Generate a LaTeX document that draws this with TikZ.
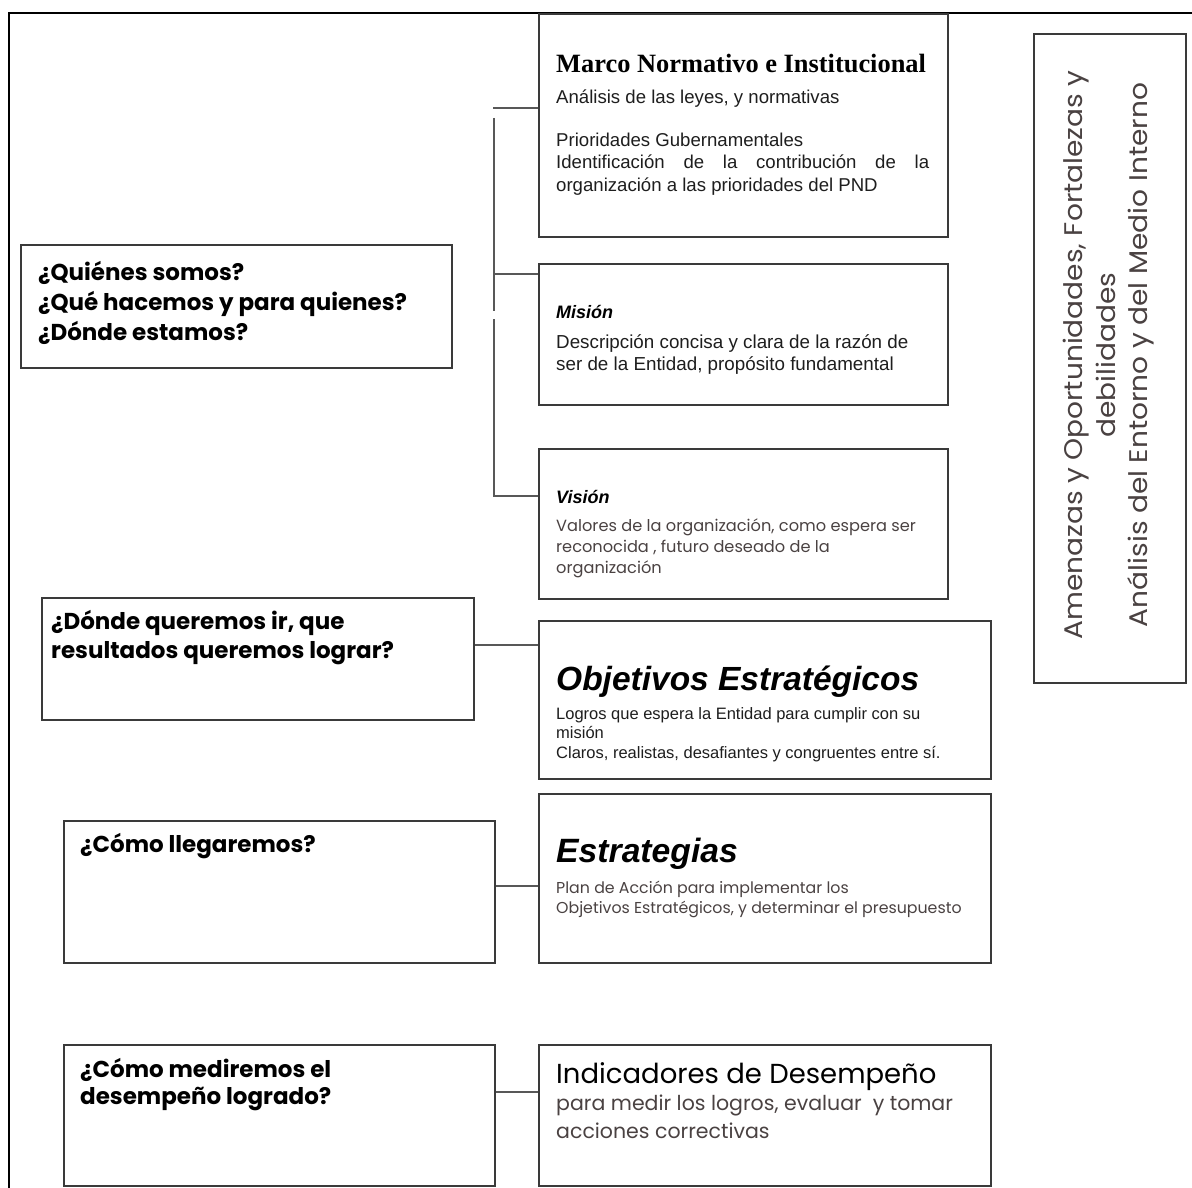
\documentclass[tikz,border=0pt]{standalone}
\usepackage{fontspec}
\setmainfont{Liberation Sans}
\newfontfamily\timesf{Liberation Serif}
\newfontfamily\gothic{Poppins}
\newfontfamily\gothicw[FakeStretch=1.1]{Poppins}
\definecolor{lin}{HTML}{3A3A3A}
\definecolor{txt}{HTML}{1E1E1E}
\definecolor{gtxt}{HTML}{4A4242}
\tikzset{
  box/.style={draw=lin, line width=1.6pt, anchor=north west, inner sep=0pt, fill=none},
  conn/.style={draw=lin!85!white, line width=1.8pt},
  frame/.style={draw=black, line width=2pt},
  tx/.style={anchor=base west, inner sep=0pt, align=left, text=txt},
}
\begin{document}
\begin{tikzpicture}[x=1pt,y=-1pt]
\useasboundingbox (0,0) rectangle (1192,1188);
\fill[white] (0,0) rectangle (1192,1188);
% outer frame
\draw[frame] (9,1188) -- (9,13) -- (1192,13);

% right column boxes
\node[box, minimum width=409pt, minimum height=223pt] (marco) at (538,13) {};
\node[box, minimum width=409pt, minimum height=141pt] (mision) at (538,263) {};
\node[box, minimum width=409pt, minimum height=150pt] (vision) at (538,448) {};
\node[box, minimum width=452pt, minimum height=158pt] (obj) at (538,620) {};
\node[box, minimum width=452pt, minimum height=169pt] (estr) at (538,793) {};
\node[box, minimum width=452pt, minimum height=141pt] (ind) at (538,1044) {};
% left column boxes
\node[box, minimum width=431pt, minimum height=123pt] (quien) at (20,244) {};
\node[box, minimum width=432pt, minimum height=122pt] (donde) at (41,597) {};
\node[box, minimum width=431pt, minimum height=142pt] (como) at (63,820) {};
\node[box, minimum width=431pt, minimum height=141pt] (medir) at (63,1044) {};
% side box
\node[box, minimum width=152pt, minimum height=649pt] (foda) at (1033,33) {};

% texts: Marco (multi-line nodes are placed by the baseline of their last line)
\node[tx, font=\timesf\bfseries\fontsize{26.4}{30}\selectfont, text=black] (tmarco) at (556,73) {Marco Normativo e Institucional};
\node[tx, font=\fontsize{18.6}{22}\selectfont] (tmarcob) at (556,191) {An\'alisis de las leyes, y normativas\\[22pt]
Prioridades Gubernamentales\\
\hbox to 373pt{Identificaci\'on\hfill de\hfill la\hfill contribuci\'on\hfill de\hfill la}\\
organizaci\'on a las prioridades del PND};
% Mision
\node[tx, font=\bfseries\itshape\fontsize{18}{22}\selectfont, text=black] (tmis) at (556,318) {Misi\'on};
\node[tx, font=\fontsize{18.8}{22}\selectfont] (tmisb) at (556,370) {Descripci\'on concisa y clara de la raz\'on de\\ser de la Entidad, prop\'osito fundamental};
% Vision
\node[tx, font=\bfseries\itshape\fontsize{18}{22}\selectfont, text=black] (tvis) at (556,503) {Visi\'on};
\node[tx, font=\gothic\fontsize{16.2}{21}\selectfont, text=gtxt] (tvisb) at (556,573) {Valores de la organizaci\'on, como espera ser\\reconocida , futuro deseado de la\\organizaci\'on};
% Objetivos
\node[tx, font=\bfseries\itshape\fontsize{33.5}{36}\selectfont, text=black] (tobj) at (556,690) {Objetivos Estrat\'egicos};
\node[tx, font=\fontsize{16.5}{19.5}\selectfont] (tobjb) at (556,758) {Logros que espera la Entidad para cumplir con su\\misi\'on\\Claros, realistas, desafiantes y congruentes entre s\'i.};
% Estrategias
\node[tx, font=\bfseries\itshape\fontsize{33.7}{36}\selectfont, text=black] (testr) at (556,862) {Estrategias};
\node[tx, font=\gothic\fontsize{15.8}{20}\selectfont, text=gtxt] (testrb) at (556,913) {Plan de Acci\'on para implementar los\\Objetivos Estrat\'egicos, y determinar el presupuesto};
% Indicadores
\node[tx, font=\gothic\fontsize{27.5}{30}\selectfont, text=black] (tind) at (556,1083) {Indicadores de Desempe\~no};
\node[tx, font=\gothic\fontsize{20.5}{28}\selectfont, text=gtxt] (tindb) at (556,1138) {para medir los logros, evaluar\ \ y tomar\\acciones correctivas};
% questions
\node[tx, font=\gothic\bfseries\fontsize{23}{30}\selectfont, text=black] (tq1) at (38,340) {¿Qui\'enes somos?\\¿Qu\'e hacemos y para quienes?\\¿D\'onde estamos?};
\node[tx, font=\gothic\bfseries\fontsize{23}{29}\selectfont, text=black] (tq2) at (51,658) {¿D\'onde queremos ir, que\\resultados queremos lograr?};
\node[tx, font=\gothic\bfseries\fontsize{23}{29}\selectfont, text=black] (tq3) at (80,852) {¿C\'omo llegaremos?};
\node[tx, font=\gothic\bfseries\fontsize{23}{27}\selectfont, text=black] (tq4) at (80,1104) {¿C\'omo mediremos el\\desempe\~no logrado?};
% rotated side text
\node[inner sep=0pt, align=center, rotate=90, font=\gothicw\fontsize{25.5}{32.5}\selectfont, text=gtxt] (tfoda) at (1109,355) {Amenazas y Oportunidades, Fortalezas y\\debilidades\\An\'alisis del Entorno y del Medio Interno};

% bracket
\coordinate (b1) at (494,118);
\coordinate (b2) at (494,311);
\coordinate (b3) at (494,319);
\coordinate (b4) at (494,496);
\coordinate (jm) at (493,108);
\draw[conn] (b1) -- (b2);
\draw[conn] (b3) -- (b4) -- (b4 -| vision.west);
\draw[conn] (jm) -- (jm -| marco.west);
\coordinate (js) at (494,274);
\draw[conn] (js) -- (js -| mision.west);
% connectors
\draw[conn] (donde.east |- 0,645) -- (obj.west |- 0,645);
\draw[conn] (como.east |- 0,886) -- (estr.west |- 0,886);
\draw[conn] (medir.east |- 0,1092) -- (ind.west |- 0,1092);
\end{tikzpicture}
\end{document}
